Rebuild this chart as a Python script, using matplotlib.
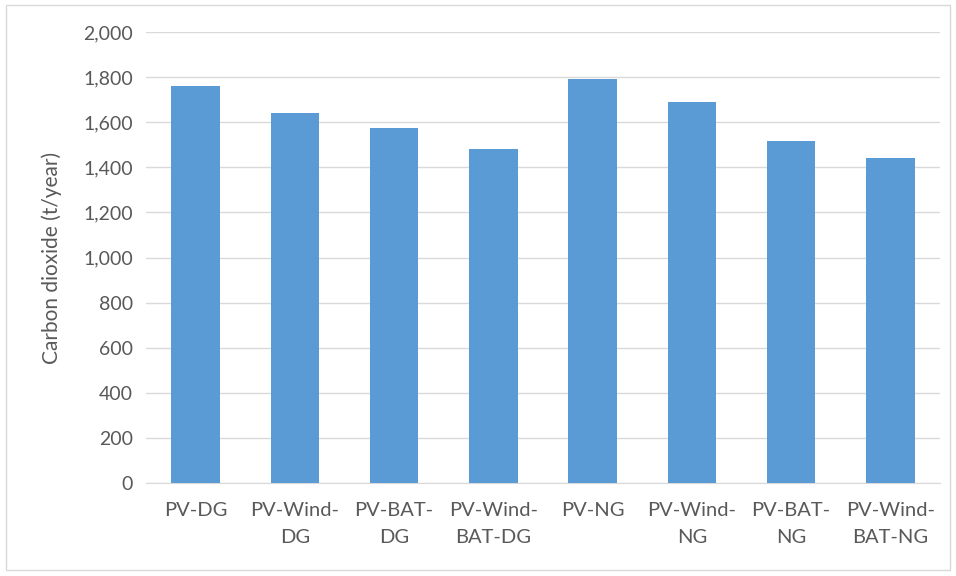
import matplotlib
matplotlib.use("Agg")
import matplotlib.pyplot as plt
from matplotlib.patches import Rectangle

categories = ["PV-DG", "PV-Wind-\nDG", "PV-BAT-\nDG", "PV-Wind-\nBAT-DG",
              "PV-NG", "PV-Wind-\nNG", "PV-BAT-\nNG", "PV-Wind-\nBAT-NG"]
co2 = [1762, 1643, 1573, 1482, 1790, 1689, 1517, 1441]
yticks = list(range(0, 2001, 200))

plt.rcParams['font.family'] = ['Lato', 'DejaVu Sans']
fig = plt.figure(figsize=(9.56, 5.76), dpi=100)
ax = fig.add_axes([146/956, 1-483/576, (940-146)/956, (483-32)/576])

x = list(range(len(categories)))
ax.bar(x, co2, width=0.49, color="#5B9BD5", zorder=3)
ax.set_xlim(-0.5, len(categories)-0.5)
ax.set_ylim(0, 2000)
ax.set_yticks(yticks)
ax.set_yticklabels([f"{v:,}" for v in yticks], fontsize=14)
ax.set_xticks(x)
ax.set_xticklabels(categories, linespacing=1.68, fontsize=14.5)
ax.grid(axis='y', color="#D9D9D9", linewidth=1, zorder=0)
for s in ['top', 'right', 'left']:
    ax.spines[s].set_visible(False)
ax.spines['bottom'].set_color("#D9D9D9")
ax.tick_params(axis='both', length=0, colors="#595959")
ax.tick_params(axis='x', pad=14)
ax.tick_params(axis='y', pad=9.5)
fig.text(52/956, 1-258/576, "Carbon dioxide (t/year)", rotation=90, ha='center', va='center',
         fontsize=15, color="#595959")

fig.patches.append(Rectangle((6/956, 1-570/576), 944/956, 565/576, transform=fig.transFigure,
                             fill=False, edgecolor="#D9D9D9", linewidth=1))
fig.savefig("out.png", dpi=100)
